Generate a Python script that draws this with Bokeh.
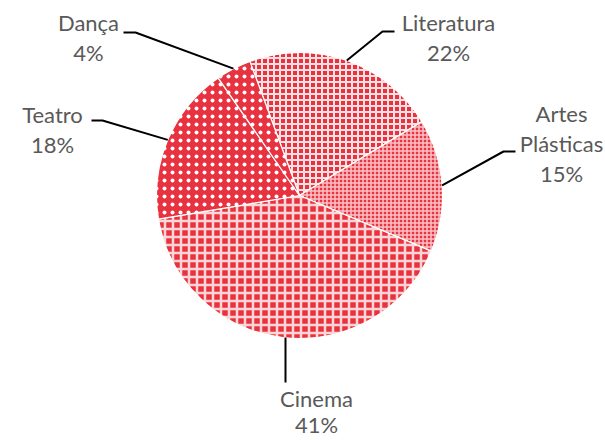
import math
from bokeh.plotting import figure
from bokeh.models import Range1d
from bokeh.core.properties import value
from bokeh.embed import file_html
from bokeh.resources import INLINE

categories = ["Literatura", "Artes Plásticas", "Cinema", "Teatro", "Dança"]
shares = [22, 15, 41, 18, 4]
label_lines = [["Literatura", "22%"], ["Artes", "Plásticas", "15%"], ["Cinema", "41%"], ["Teatro", "18%"], ["Dança", "4%"]]

W, H = 605, 440
RED = "#E8323F"
TXT = "#595959"

def px(X, Y):
    return X, H - Y

p = figure(width=W, height=H, output_backend="svg", toolbar_location=None,
           x_range=Range1d(0, W), y_range=Range1d(0, H), match_aspect=False)
p.axis.visible = False
p.grid.visible = False
p.outline_line_color = None
p.min_border = 0
p.background_fill_color = "white"

cx, cy = px(299, 195)
R = 143
first = -20.3  # degrees clockwise from north

styles = [
    dict(fill_color=RED, hatch_pattern="cross", hatch_color="white", hatch_scale=6, hatch_weight=2, hatch_alpha=0.85),
    dict(fill_color=RED, hatch_pattern="cross", hatch_color="white", hatch_scale=4, hatch_weight=1.5, hatch_alpha=0.7),
    dict(fill_color=RED, hatch_pattern="cross", hatch_color="white", hatch_scale=8, hatch_weight=2.5, hatch_alpha=0.8),
    dict(fill_color=RED, hatch_pattern="dot", hatch_color="white", hatch_scale=8, hatch_weight=2, hatch_alpha=1.0),
    dict(fill_color=RED, hatch_pattern="dot", hatch_color="white", hatch_scale=8, hatch_weight=2, hatch_alpha=1.0),
]

total = sum(shares)
theta = first
mids = []
for s, st in zip(shares, styles):
    t1 = theta
    t2 = theta + 360 * s / total
    mids.append((t1 + t2) / 2)
    p.wedge(x=cx, y=cy, radius=R, start_angle=math.radians(90 - t2), end_angle=math.radians(90 - t1),
            line_color="white", line_width=1.2, **st)
    theta = t2

# label anchors (screen coords): text center x, first line y, line gap, leader elbow
label_pos = [
    (448, 22, 30, [(394, 31), (382, 31)]),
    (561, 113, 30, [(515, 151), (503, 151)]),
    (316, 398, 26, [(285, 382)]),
    (52, 114, 30, [(91, 120), (102, 120)]),
    (88, 22, 30, [(123, 32), (135, 32)]),
]

for lines, (tx, ty, gap, elbow), m in zip(label_lines, label_pos, mids):
    ex = cx + R * math.sin(math.radians(m))
    ey = cy + R * math.cos(math.radians(m))
    pts = [px(*q) for q in elbow]
    xs = [q[0] for q in pts] + [ex]
    ys = [q[1] for q in pts] + [ey]
    if len(elbow) == 1:
        xs = [pts[0][0], pts[0][0]]
        ys = [pts[0][1], ey]
    p.line(xs, ys, line_color="black", line_width=2)
    for i, t in enumerate(lines):
        x, y = px(tx, ty + gap * i)
        p.text(x=[x], y=[y], text=[t], text_align="center", text_baseline="middle",
               text_font=value("Lato"), text_font_size="22px", text_color=TXT)

open("out.html", "w").write(file_html(p, INLINE))
